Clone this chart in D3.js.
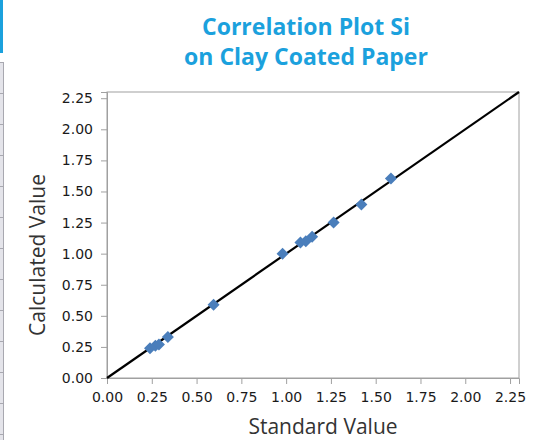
<!DOCTYPE html>
<html>
<head>
  <title>Correlation Plot Si on Clay Coated Paper</title>
  <script src="https://d3js.org/d3.v7.min.js"></script>
  <style>
    body { margin: 0; background: #fff; }
  </style>
</head>
<body>
  <svg id="chart" width="538" height="440"></svg>

  <script>
    // Data
    var standardValues   = [0.24, 0.27, 0.29, 0.34, 0.595, 0.98, 1.08, 1.11, 1.145, 1.265, 1.42, 1.585];
    var calculatedValues = [0.24, 0.26, 0.27, 0.33, 0.59, 1.00, 1.09, 1.10, 1.135, 1.25, 1.395, 1.605];
    var tickValues = [0, 0.25, 0.5, 0.75, 1.0, 1.25, 1.5, 1.75, 2.0, 2.25];
    var lineEnds = [0, 2.3];
    var titleLines = ["Correlation Plot Si", "on Clay Coated Paper"];

    var data = standardValues.map(function(d, i) { return { x: d, y: calculatedValues[i] }; });

    var margin = { top: 92, right: 19, bottom: 62, left: 107 };
    var width = 538 - margin.left - margin.right;
    var height = 440 - margin.top - margin.bottom;

    var root = d3.select("#chart");

    // Left page edge decoration (blue bar + table strip)
    root.append("rect").attr("x", 0).attr("y", 0).attr("width", 3).attr("height", 53).attr("fill", "#1ba1dd");
    root.append("rect").attr("x", 0).attr("y", 62).attr("width", 3).attr("height", 378).attr("fill", "#e4e4ea");
    root.append("line").attr("x1", 3.5).attr("x2", 3.5).attr("y1", 62).attr("y2", 440).attr("stroke", "#a8a8b0");
    d3.range(62, 440, 31).forEach(function(y) {
      root.append("line").attr("x1", 0).attr("x2", 4).attr("y1", y + 0.5).attr("y2", y + 0.5).attr("stroke", "#a8a8b0");
    });

    // Title
    root.append("text")
      .attr("text-anchor", "middle")
      .attr("fill", "#1ba1dd")
      .attr("font-family", "Open Sans")
      .attr("font-weight", 700)
      .attr("font-size", "23px")
      .selectAll("tspan")
      .data(titleLines)
      .enter()
      .append("tspan")
      .attr("x", 306)
      .attr("y", function(d, i) { return 35 + i * 30; })
      .text(function(d) { return d; });

    var svg = root.append("g")
      .attr("transform", "translate(" + margin.left + "," + margin.top + ")");

    var xScale = d3.scaleLinear().domain([0, 2.3]).range([0, width]);
    var yScale = d3.scaleLinear().domain([0, 2.3]).range([height, 0]);

    // Frame
    svg.append("rect")
      .attr("x", 0).attr("y", 0)
      .attr("width", width).attr("height", height)
      .attr("fill", "none")
      .attr("stroke", "#a0a0a0");

    // Axes
    var xAxis = d3.axisBottom(xScale).tickValues(tickValues).tickFormat(d3.format(".2f")).tickSize(6).tickPadding(8);
    var yAxis = d3.axisLeft(yScale).tickValues(tickValues).tickFormat(d3.format(".2f")).tickSize(6).tickPadding(8);

    var gx = svg.append("g").attr("transform", "translate(0," + height + ")").call(xAxis);
    var gy = svg.append("g").call(yAxis);

    [gx, gy].forEach(function(g) {
      g.select(".domain").attr("stroke", "#a0a0a0");
      g.selectAll(".tick line").attr("stroke", "#a0a0a0");
      g.selectAll(".tick text")
        .attr("fill", "#1a1a1a")
        .attr("font-family", "DejaVu Sans")
        .attr("font-size", "14px");
    });

    // 1:1 line
    svg.append("line")
      .attr("x1", xScale(lineEnds[0])).attr("y1", yScale(lineEnds[0]))
      .attr("x2", xScale(lineEnds[1])).attr("y2", yScale(lineEnds[1]))
      .attr("stroke", "#000")
      .attr("stroke-width", 2.2);

    // Points (diamonds)
    svg.selectAll("path.pt")
      .data(data)
      .enter()
      .append("path")
      .attr("class", "pt")
      .attr("d", d3.symbol().type(d3.symbolDiamond2).size(92))
      .attr("transform", function(d) { return "translate(" + xScale(d.x) + "," + yScale(d.y) + ")"; })
      .attr("fill", "#4a7ebb");

    // Axis labels
    svg.append("text")
      .attr("x", width / 2 + 10)
      .attr("y", height + 56)
      .attr("text-anchor", "middle")
      .attr("fill", "#333")
      .attr("font-family", "Open Sans")
      .attr("font-size", "21px")
      .text("Standard Value");

    svg.append("text")
      .attr("transform", "rotate(-90)")
      .attr("x", -(255 - margin.top))
      .attr("y", 45 - margin.left)
      .attr("text-anchor", "middle")
      .attr("fill", "#333")
      .attr("font-family", "Open Sans")
      .attr("font-size", "21px")
      .text("Calculated Value");
  </script>
</body>
</html>
